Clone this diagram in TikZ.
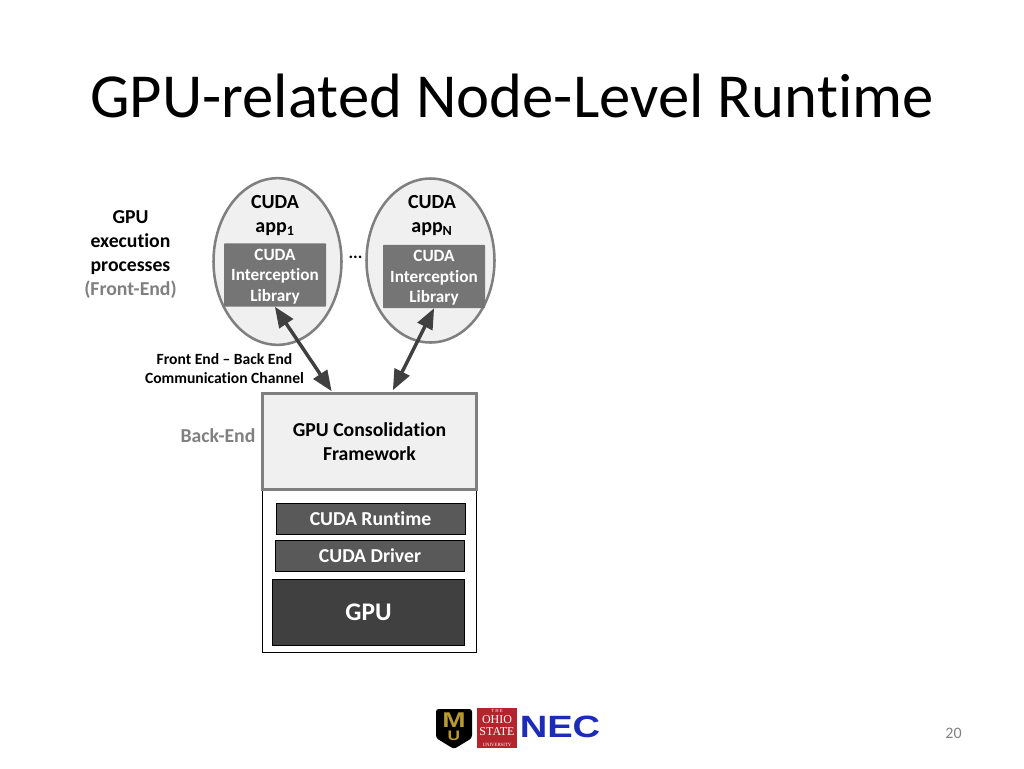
\documentclass[tikz,border=0pt]{standalone}
\usepackage{fontspec}
\setmainfont{Carlito}[Ligatures=NoCommon]
\newfontfamily\logosans{Liberation Sans}
\newfontfamily\logoserif{Liberation Serif}
\usetikzlibrary{arrows,shapes.geometric}
\definecolor{framegray}{HTML}{7F7F7F}
\definecolor{libgray}{HTML}{757575}
\definecolor{darkbox}{HTML}{595959}
\definecolor{gpubox}{HTML}{404040}
\definecolor{lightbox}{HTML}{F0F0F0}
\definecolor{mutedtext}{HTML}{808080}
\definecolor{osured}{HTML}{B3242C}
\definecolor{necblue}{HTML}{1C2CB8}
\definecolor{mugold}{HTML}{B89A2E}
\tikzset{
>=triangle 45,
  appcloud/.style={
    ellipse,
    inner sep=0pt,
    fill=lightbox,
    draw=framegray, line width=1.9pt},
  appname/.style={
    font=\fontsize{15}{18.5}\selectfont\bfseries,
    align=center},
  interlib/.style={
    rectangle,
    rounded corners=0.6pt,
    fill=libgray,
    text=white,
    inner sep=0pt,
    minimum width=76.5pt,
    minimum height=47.5pt,
    align=center,
    font=\fontsize{12.9}{15.2}\selectfont\bfseries},
  stackbox/.style={
    rectangle,
    draw=black, line width=.5pt,
    fill=darkbox,
    text=white,
    inner sep=0pt,
    minimum width=142pt,
    minimum height=23.5pt,
    font=\fontsize{14.8}{16}\selectfont\bfseries},
  sidelabel/.style={
    align=center,
    font=\fontsize{14.8}{18}\selectfont\bfseries},
  channel/.style={<->, line width=2.6pt, draw=gpubox},
}
\begin{document}
\begin{tikzpicture}[x=.75pt, y=-.75pt]
    \useasboundingbox (0,0) rectangle (1024,768);
    \node (title) at (512,96) {\fontsize{47}{50}\selectfont GPU-related Node-Level Runtime};
    % front end
    \node[sidelabel] (procs) at (130.5,254.5) {GPU\\execution\\processes\\\textcolor{mutedtext}{(Front-End)}};
    \node[appcloud, minimum width=96pt, minimum height=125pt] (app1) at (277.5,261.5) {};
    \node[appcloud, minimum width=96pt, minimum height=123pt] (appn) at (430.5,260.5) {};
    \node[appname] (name1) at (275,215.5) {CUDA\\app\textsubscript{1}};
    \node[appname] (namen) at (432,215.5) {CUDA\\app\textsubscript{N}};
    \node[interlib] (lib1) at (275,275) {\strut CUDA\\Interception\\Library};
    \node[interlib] (libn) at (434,276.5) {\strut CUDA\\Interception\\Library};
    \node[font=\fontsize{13}{14}\selectfont\bfseries] (dots) at (355.5,257) {...};
    % back end
    \node[rectangle, draw=black, line width=.6pt, fill=white, minimum width=161pt, minimum height=122pt, inner sep=0pt] (outer) at (369.5,571.5) {};
    \node[rectangle, draw=framegray, line width=2.2pt, fill=lightbox, minimum width=160pt, minimum height=72pt, inner sep=0pt,
        align=center, font=\fontsize{14.8}{18}\selectfont\bfseries] (frame) at (369.5,441.5) {GPU Consolidation\\Framework};
    \node[sidelabel, text=mutedtext] (back) at (218,436) {Back-End};
    \node[stackbox] (rt) at (370.5,519) {CUDA Runtime};
    \node[stackbox] (drv) at (370,556) {CUDA Driver};
    \node[stackbox, fill=gpubox, minimum width=144pt, minimum height=49.5pt, font=\fontsize{19}{20}\selectfont\bfseries] (gpu) at (368.5,612) {GPU};
    % channel
    \node[align=center, font=\fontsize{11.7}{14.3}\selectfont\bfseries] (chan) at (224.5,368.5) {Front End -- Back End\\Communication Channel};
    \coordinate (in1) at (331.5,391);
    \coordinate (inn) at (393,390);
    \draw[channel] (lib1.south) -- (in1);
    \draw[channel] (libn.south) -- (inn);
    % logos
    \fill[black, rounded corners=2pt] (436,709) -- (472,709) -- (472,738) -- (454,749) -- (436,738) -- cycle;
    \node[text=mugold, inner sep=0pt, font=\logosans\fontsize{20}{20}\selectfont\bfseries] (mum) at (454,720) {\scalebox{1.05}[.8]{M}};
    \node[text=mugold, inner sep=0pt, font=\logosans\fontsize{13}{13}\selectfont\bfseries] (muu) at (454,736) {\scalebox{1}[.8]{U}};
    \node[rectangle, fill=osured, text=white, inner sep=0pt, minimum width=30pt, minimum height=30pt, align=center,
        font=\logoserif\fontsize{9}{8.6}\selectfont] (osu) at (497,728)
        {{\fontsize{3.5}{3.5}\selectfont T H E}\\OHIO\\STATE\\{\fontsize{3.6}{3.6}\selectfont UNIVERSITY}};
    \node[text=necblue, inner sep=0pt] (nec) at (560,727) {\scalebox{1.3}[1.05]{\logosans\fontsize{22}{22}\selectfont\bfseries NEC}};
    \node[text=mutedtext, font=\fontsize{12}{14}\selectfont] (page) at (953.5,733) {20};
\end{tikzpicture}
\end{document}
